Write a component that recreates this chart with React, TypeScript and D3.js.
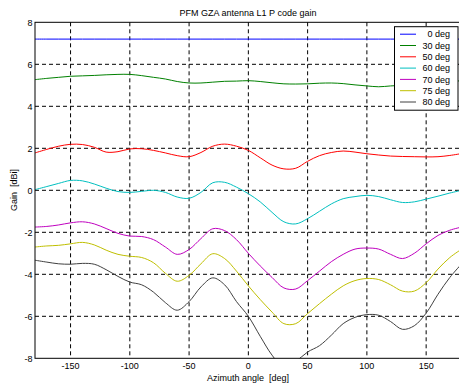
import React from "react";
import * as d3 from "d3";

const azimuth = [-180,-170,-160,-150,-140,-130,-120,-110,-100,-90,-80,-70,-60,-50,-40,-30,-20,-10,0,10,20,30,40,50,60,70,80,90,100,110,120,130,140,150,160,170,180];

const g0 = azimuth.map(() => 7.2);
const g30 = [5.27,5.33,5.38,5.43,5.45,5.47,5.5,5.52,5.52,5.46,5.38,5.3,5.18,5.11,5.11,5.15,5.19,5.2,5.22,5.18,5.12,5.07,5.06,5.07,5.1,5.11,5.08,5.02,4.97,4.93,4.97,5.0,5.02,5.05,5.1,5.17,5.22];
const g50 = [1.78,1.95,2.1,2.19,2.18,2.05,1.82,1.84,1.97,1.98,1.9,1.78,1.65,1.6,1.8,2.1,2.2,2.1,1.9,1.55,1.2,1.02,1.05,1.38,1.65,1.8,1.87,1.82,1.74,1.68,1.63,1.61,1.6,1.59,1.6,1.66,1.75];
const g60 = [0.03,0.18,0.33,0.47,0.45,0.3,0.1,-0.06,-0.1,-0.05,0.0,-0.1,-0.32,-0.38,-0.1,0.36,0.38,0.15,-0.16,-0.55,-1.05,-1.5,-1.6,-1.35,-1.0,-0.65,-0.4,-0.3,-0.24,-0.3,-0.45,-0.58,-0.55,-0.42,-0.28,-0.13,0.0];
const g70 = [-1.75,-1.72,-1.65,-1.55,-1.5,-1.6,-1.82,-2.05,-2.18,-2.2,-2.35,-2.7,-3.05,-2.82,-2.3,-1.83,-1.92,-2.35,-3.0,-3.6,-4.15,-4.65,-4.7,-4.3,-3.85,-3.4,-3.05,-2.8,-2.75,-2.8,-3.05,-3.25,-3.0,-2.55,-2.15,-1.9,-1.75];
const g75 = [-2.7,-2.65,-2.62,-2.55,-2.48,-2.6,-2.85,-3.05,-3.14,-3.2,-3.45,-3.95,-4.33,-4.05,-3.5,-3.02,-3.25,-3.85,-4.55,-5.2,-5.8,-6.35,-6.35,-5.87,-5.4,-4.95,-4.55,-4.3,-4.2,-4.25,-4.5,-4.8,-4.8,-4.4,-3.75,-3.2,-2.8];
const g80 = [-3.33,-3.42,-3.5,-3.52,-3.48,-3.52,-3.78,-4.1,-4.37,-4.5,-4.85,-5.35,-5.71,-5.3,-4.6,-4.17,-4.5,-5.3,-6.0,-6.95,-7.85,-8.45,-8.15,-7.7,-7.4,-6.9,-6.35,-6.05,-5.92,-5.95,-6.25,-6.62,-6.45,-5.85,-4.95,-4.15,-3.5];

const seriesLabels = ["0 deg","30 deg","50 deg","60 deg","70 deg","75 deg","80 deg"];
const seriesValues = [g0,g30,g50,g60,g70,g75,g80];
const seriesColors = ["#0000ff","#008000","#ff0000","#00bfbf","#bf00bf","#bfbf00","#404040"];

const xTicks = [-150,-100,-50,0,50,100,150];
const yTicks = [-8,-6,-4,-2,0,2,4,6,8];

const W = 459, H = 385;
const FONT = "Liberation Sans, Arial, Helvetica, sans-serif";

export default function App() {
  const x = d3.scaleLinear().domain([-180, 180]).range([35, 461.7]);
  const y = d3.scaleLinear().domain([-8, 8]).range([358.3, 22.3]);
  const [x0, x1] = x.range();
  const [yb, yt] = y.range();
  const line = d3.line<[number, number]>()
    .x(d => x(d[0]))
    .y(d => y(d[1]))
    .curve(d3.curveCatmullRom.alpha(0.5));

  const legX = 394.5, legY = 26.7, legW = 63.5, legH = 83.5, legStep = 11.3;

  return (
    <svg width={W} height={H} style={{ position: "absolute", left: 0, top: 0 }} fontFamily={FONT}>
      <defs>
        <clipPath id="plotclip">
          <rect x={x0} y={yt} width={x1 - x0} height={yb - yt} />
        </clipPath>
      </defs>
      <rect x={0} y={0} width={W} height={H} fill="#fff" />
      <rect x={x0} y={yt} width={x1 - x0} height={yb - yt} fill="#fff" />
      {xTicks.map(t => (
        <line key={"gx" + t} x1={x(t)} x2={x(t)} y1={yt} y2={yb} stroke="#000" strokeWidth={1} strokeDasharray="4,3" />
      ))}
      {yTicks.filter(t => t > -8 && t < 8).map(t => (
        <line key={"gy" + t} x1={x0} x2={x1} y1={y(t)} y2={y(t)} stroke="#000" strokeWidth={1} strokeDasharray="4,3" />
      ))}
      <g clipPath="url(#plotclip)">
        {seriesValues.map((vals, i) => (
          <path key={i} d={line(azimuth.map((a, j) => [a, vals[j]] as [number, number])) || ""} fill="none" stroke={seriesColors[i]} strokeWidth={1} />
        ))}
      </g>
      <rect x={x0} y={yt} width={x1 - x0} height={yb - yt} fill="none" stroke="#000" strokeWidth={1} />
      {xTicks.map(t => (
        <text key={"tx" + t} x={x(t)} y={369} fontSize={9} textAnchor="middle" fill="#000">{t}</text>
      ))}
      {yTicks.map(t => (
        <text key={"ty" + t} x={32.5} y={y(t) + 3.2} fontSize={9} textAnchor="end" fill="#000">{t}</text>
      ))}
      <text x={248} y={15.5} fontSize={9} textAnchor="middle" fill="#000">PFM GZA antenna L1 P code gain</text>
      <text x={248} y={381} fontSize={9} textAnchor="middle" fill="#000" style={{ whiteSpace: "pre" }}>{"Azimuth angle  [deg]"}</text>
      <text transform="translate(17,190) rotate(-90)" fontSize={9} textAnchor="middle" fill="#000" style={{ whiteSpace: "pre" }}>{"Gain  [dBi]"}</text>
      <g>
        <rect x={legX} y={legY} width={legW} height={legH} fill="#fff" stroke="#000" strokeWidth={1} />
        {seriesLabels.map((lab, i) => {
          const cy = legY + 7.5 + i * legStep;
          return (
            <g key={lab}>
              <line x1={400} x2={416} y1={cy} y2={cy} stroke={seriesColors[i]} strokeWidth={1} />
              <text x={450} y={cy + 3.2} fontSize={9} textAnchor="end" fill="#000">{lab}</text>
            </g>
          );
        })}
      </g>
    </svg>
  );
}
